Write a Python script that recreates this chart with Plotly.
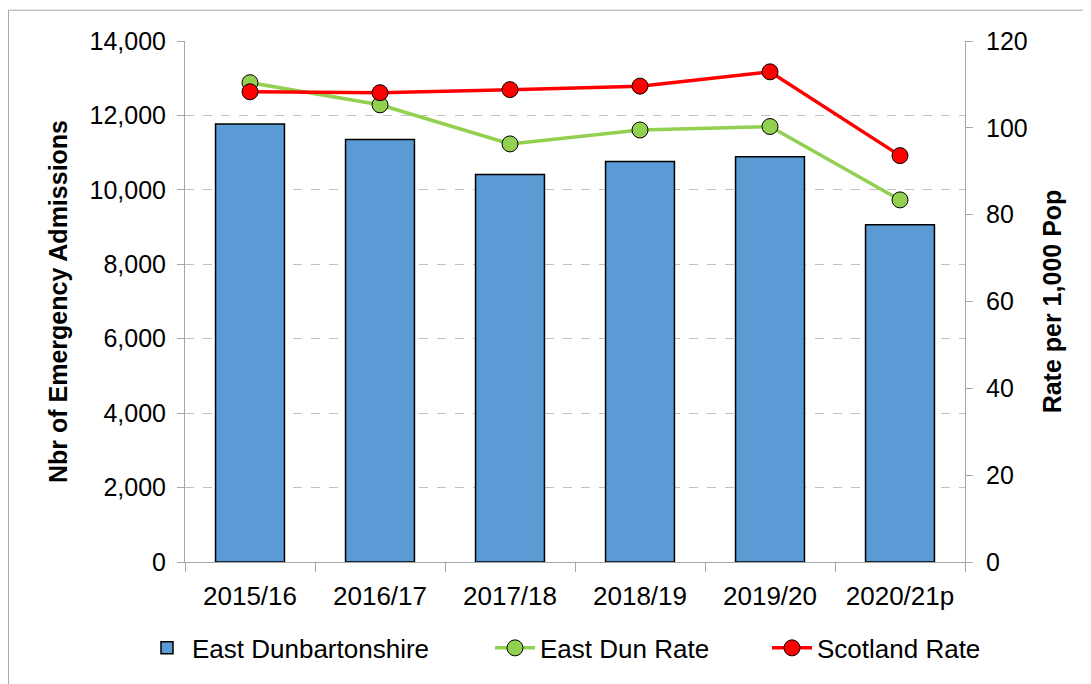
import plotly.graph_objects as go

categories = ["2015/16", "2016/17", "2017/18", "2018/19", "2019/20", "2020/21p"]
admissions = [11770, 11350, 10410, 10760, 10890, 9060]
east_dun_rate = [110.4, 105.3, 96.3, 99.5, 100.3, 83.4]
scotland_rate = [108.3, 108.1, 108.8, 109.6, 112.9, 93.6]

left_ticks = [0, 2000, 4000, 6000, 8000, 10000, 12000, 14000]
right_ticks = [0, 20, 40, 60, 80, 100, 120]

FONT = "Liberation Sans, Arial, sans-serif"

fig = go.Figure()
fig.add_trace(go.Bar(
    x=categories, y=admissions, name="East Dunbartonshire",
    marker=dict(color="#5B9BD5", line=dict(color="black", width=1.5)),
    legend="legend",
))
fig.add_trace(go.Scatter(
    x=categories, y=east_dun_rate, name="East Dun Rate", yaxis="y2",
    mode="lines+markers",
    line=dict(color="#92D050", width=3.5),
    marker=dict(symbol="circle", size=16, color="#92D050", line=dict(color="black", width=1)),
    legend="legend2",
))
fig.add_trace(go.Scatter(
    x=categories, y=scotland_rate, name="Scotland Rate", yaxis="y2",
    mode="lines+markers",
    line=dict(color="#FF0000", width=3.5),
    marker=dict(symbol="circle", size=16, color="#FF0000", line=dict(color="black", width=1)),
    legend="legend3",
))

PLOT_L, PLOT_W = 177, 780


def px_to_paper(px):
    return (px - PLOT_L) / PLOT_W


leg_common = dict(orientation="h", yanchor="middle", y=-0.165, xanchor="left",
                  font=dict(size=26, family=FONT), bgcolor="rgba(0,0,0,0)", itemwidth=40)

fig.update_layout(
    width=1083, height=676,
    margin=dict(l=PLOT_L, r=126, t=33, b=119),
    paper_bgcolor="white", plot_bgcolor="white",
    font=dict(family=FONT, size=24, color="black"),
    showlegend=True,
    legend=dict(x=px_to_paper(134), **leg_common),
    legend2=dict(x=px_to_paper(482), **leg_common),
    legend3=dict(x=px_to_paper(759), **leg_common),
    xaxis=dict(
        type="category", showgrid=False, showline=True, linecolor="#a6a6a6", linewidth=1,
        ticks="outside", tickson="boundaries", ticklen=9, tickcolor="#a6a6a6",
        tickfont=dict(size=26, family=FONT), ticklabelstandoff=11,
    ),
    yaxis=dict(
        range=[0, 14000], tickvals=left_ticks, tickformat=",",
        showgrid=True, gridcolor="#c0c0c0", griddash="dash", gridwidth=1,
        showline=True, linecolor="#a6a6a6", linewidth=1,
        ticks="outside", ticklen=7, tickcolor="#a6a6a6",
        tickfont=dict(size=25, family=FONT), zeroline=False, ticklabelstandoff=6,
        title=dict(text="<b>Nbr of Emergency Admissions</b>", font=dict(size=25, family=FONT), standoff=14),
    ),
    yaxis2=dict(
        range=[0, 120], tickvals=right_ticks, overlaying="y", side="right",
        showgrid=False, showline=True, linecolor="#a6a6a6", linewidth=1,
        ticks="outside", ticklen=7, tickcolor="#a6a6a6",
        tickfont=dict(size=25, family=FONT), zeroline=False, ticklabelstandoff=8,
        title=dict(text="<b>Rate per 1,000 Pop</b>", font=dict(size=25, family=FONT), standoff=16),
    ),
    bargap=0.47,
)

# outer chart border (top and left visible in reference)
fig.add_shape(type="line", xref="paper", yref="paper", x0=-0.2263, x1=1.2, y0=1.0592, y1=1.0592,
              line=dict(color="#a6a6a6", width=1))
fig.add_shape(type="line", xref="paper", yref="paper", x0=-0.2263, x1=-0.2263, y0=1.0592, y1=-0.3,
              line=dict(color="#a6a6a6", width=1))

fig.write_html("out.html")
